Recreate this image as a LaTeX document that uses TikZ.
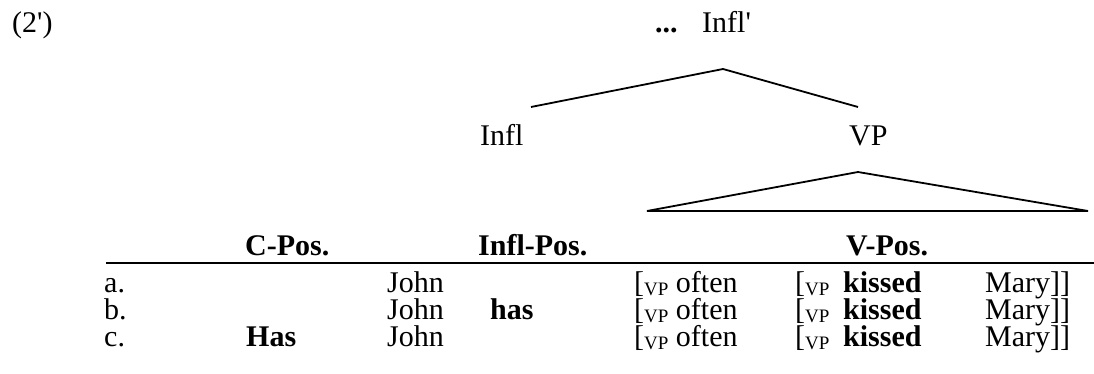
\documentclass[tikz,border=0pt]{standalone}
\usepackage{fontspec}
\setmainfont{Liberation Serif}[Ligatures=TeXOff]
\newcommand{\vpsub}{\raisebox{-0.12em}{\fontsize{19}{19}\selectfont VP}}
\begin{document}
\begin{tikzpicture}[x=1pt,y=-1pt,
  txt/.style={anchor=base west, inner sep=0pt, font=\fontsize{30}{30}\selectfont},
  treeline/.style={line width=1.8pt},
]
\useasboundingbox (0,0) rectangle (1094,374);
% label
\node[txt] (num) at (12,33) {(2')};
% tree
\node[txt] (dots) at (655,33) {\textbf{...}};
\node[txt] (inflbar) at (702,33) {Infl'};
\node[txt] (infl) at (480,146) {Infl};
\node[txt] (vp) at (849,146) {VP};
\coordinate (apex) at (723,69);
\coordinate (lend) at (531,107);
\coordinate (rend) at (858,107);
\draw[treeline] (lend) -- (apex) -- (rend);
\coordinate (tapex) at (858,172);
\coordinate (tl) at (647,211);
\coordinate (tr) at (1088,211);
\draw[treeline, line join=miter] (tl) -- (tapex) -- (tr) -- cycle;
% table header
\node[txt] (hc) at (245,255) {\textbf{C-Pos.}};
\node[txt] (hi) at (478,255) {\textbf{Infl-Pos.}};
\node[txt] (hv) at (846,255) {\textbf{V-Pos.}};
\coordinate (rl) at (106,263);
\coordinate (rr) at (1094,263);
\draw[treeline] (rl) -- (rr);
% rows
\foreach \lab/\y/\c/\i in {a/292//, b/319//\textbf{has}, c/346/\textbf{Has}/}{
  \node[txt] (l\lab) at (104,\y) {\lab.};
  \node[txt] (c\lab) at (246,\y) {\c};
  \node[txt] (j\lab) at (387,\y) {John};
  \node[txt] (i\lab) at (490,\y) {\i};
  \node[txt] (o\lab) at (634,\y) {[\vpsub{} often};
  \node[txt] (v\lab) at (795,\y) {[\vpsub};
  \node[txt] (k\lab) at (843,\y) {\textbf{kissed}};
  \node[txt] (m\lab) at (985,\y) {Mary]]};
}
\end{tikzpicture}
\end{document}
